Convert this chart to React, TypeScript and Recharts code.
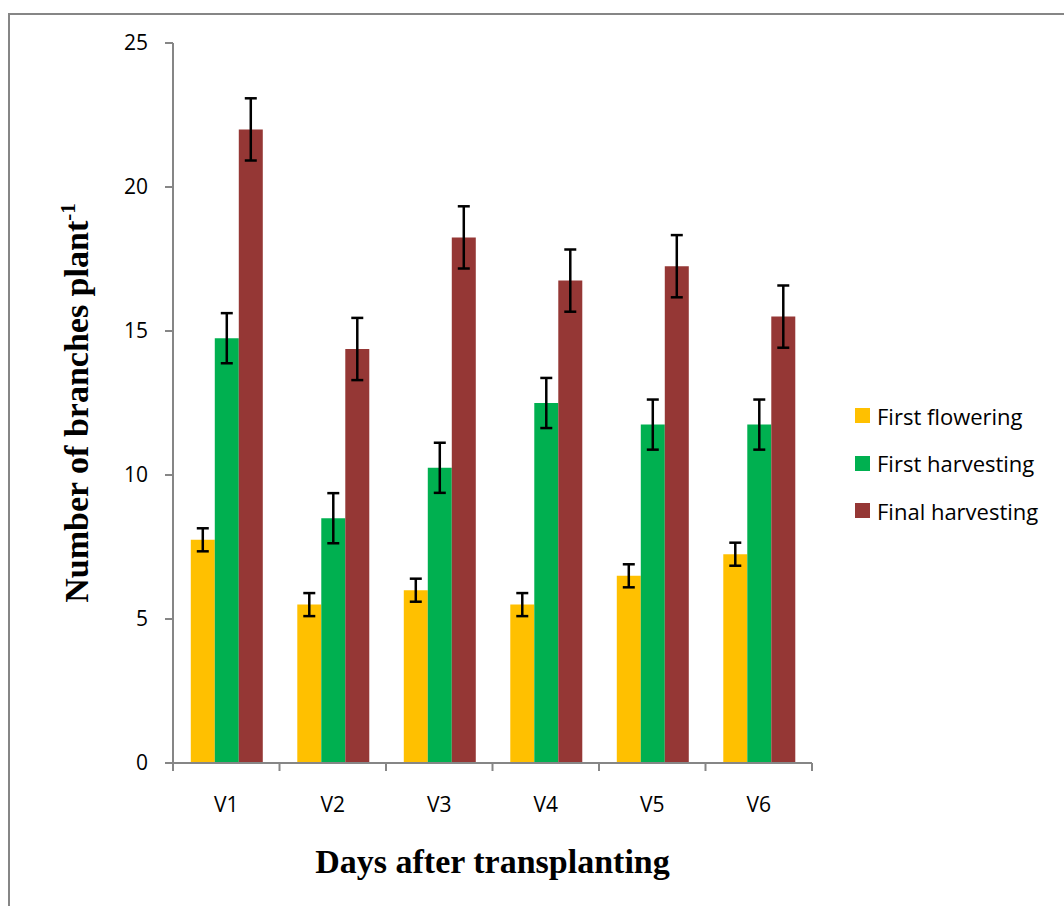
import { BarChart, Bar, XAxis, YAxis, ErrorBar, Legend } from "recharts";

const categories = ["V1", "V2", "V3", "V4", "V5", "V6"];
const firstFlowering = [7.75, 5.5, 6, 5.5, 6.5, 7.25];
const firstHarvesting = [14.75, 8.5, 10.25, 12.5, 11.75, 11.75];
const finalHarvesting = [22, 14.375, 18.25, 16.75, 17.25, 15.5];
const firstFloweringErr = [0.4, 0.4, 0.4, 0.4, 0.4, 0.4];
const firstHarvestingErr = [0.87, 0.87, 0.87, 0.87, 0.87, 0.87];
const finalHarvestingErr = [1.08, 1.08, 1.08, 1.08, 1.08, 1.08];
const yTicks = [0, 5, 10, 15, 20, 25];

const series = [
  { key: "flowering", name: "First flowering", color: "#FFC000" },
  { key: "harvest", name: "First harvesting", color: "#00B050" },
  { key: "final", name: "Final harvesting", color: "#953735" },
];

const AXIS = "#868686";
const FONT = "'Open Sans', sans-serif";

const data = categories.map((name, i) => ({
  name,
  flowering: firstFlowering[i],
  floweringErr: firstFloweringErr[i],
  harvest: firstHarvesting[i],
  harvestErr: firstHarvestingErr[i],
  final: finalHarvesting[i],
  finalErr: finalHarvestingErr[i],
}));

const W = 1064;
const H = 906;
const margin = { top: 43, right: 252, bottom: 23, left: 0 };
const yAxisW = 173;
const xAxisH = 120;
const plotW = W - margin.right - margin.left - yAxisW;

// ticks sit on category boundaries, labels in the middle
function CategoryTick(props: any) {
  const { x, y, payload, index, visibleTicksCount } = props;
  const band = plotW / visibleTicksCount;
  return (
    <g>
      <line x1={x - band / 2} x2={x - band / 2} y1={y} y2={y + 8} stroke={AXIS} strokeWidth={2} />
      {index === visibleTicksCount - 1 && (
        <line x1={x + band / 2} x2={x + band / 2} y1={y} y2={y + 8} stroke={AXIS} strokeWidth={2} />
      )}
      <text x={x} y={y + 49} textAnchor="middle" fontSize={21} fill="#000" fontFamily={FONT}>
        {payload.value}
      </text>
    </g>
  );
}

function ValueTick(props: any) {
  const { x, y, payload } = props;
  return (
    <text x={x} y={y} dy={7} textAnchor="end" fontSize={21} fill="#000" fontFamily={FONT}>
      {payload.value}
    </text>
  );
}

function XTitle(props: any) {
  const { x, y, width } = props.viewBox;
  return (
    <text x={x + width / 2} y={y + 110} textAnchor="middle" fontFamily="'Liberation Serif', serif"
      fontWeight="bold" fontSize={34} fill="#000">
      Days after transplanting
    </text>
  );
}

function YTitle(props: any) {
  const { y, height } = props.viewBox;
  const cx = 88;
  const cy = y + height / 2;
  return (
    <text x={cx} y={cy} transform={`rotate(-90, ${cx}, ${cy})`} textAnchor="middle"
      fontFamily="'Liberation Serif', serif" fontWeight="bold" fontSize={34} fill="#000">
      <tspan>Number of branches plant</tspan>
      <tspan fontSize={21} dy={-13}>-1</tspan>
    </text>
  );
}

function LegendBox() {
  return (
    <div style={{ fontFamily: FONT }}>
      {series.map((s) => (
        <div key={s.key} style={{ height: 47.5, display: "flex", alignItems: "center" }}>
          <span style={{ width: 15, height: 15, background: s.color, marginRight: 7, display: "inline-block" }} />
          <span style={{ fontSize: 22, color: "#000" }}>{s.name}</span>
        </div>
      ))}
    </div>
  );
}

export default function App() {
  return (
    <div style={{ position: "fixed", left: 0, top: 0, width: W, height: H, background: "#fff", overflow: "hidden" }}>
      <div style={{ position: "absolute", left: 8, top: 13, width: W, height: H, borderTop: `2px solid ${AXIS}`, borderLeft: `2px solid ${AXIS}` }} />
      <div style={{ position: "absolute", left: 0, top: 0 }}>
        <BarChart width={W} height={H} data={data} margin={margin} barCategoryGap="16.7%" barGap={0}>
          <XAxis
            dataKey="name"
            height={xAxisH}
            axisLine={{ stroke: AXIS, strokeWidth: 2 }}
            tickLine={false}
            tickSize={0}
            tickMargin={0}
            tick={<CategoryTick />}
            interval={0}
            label={<XTitle />}
          />
          <YAxis
            width={yAxisW}
            domain={[0, 25]}
            ticks={yTicks}
            interval={0}
            axisLine={{ stroke: AXIS, strokeWidth: 2 }}
            tickLine={{ stroke: AXIS, strokeWidth: 2 }}
            tickSize={8}
            tickMargin={17}
            tick={<ValueTick />}
            label={<YTitle />}
          />
          <Legend
            layout="vertical"
            align="center"
            verticalAlign="middle"
            wrapperStyle={{ left: 855, top: 392, width: 209, height: 143 }}
            content={<LegendBox />}
          />
          {series.map((s) => (
            <Bar key={s.key} dataKey={s.key} name={s.name} fill={s.color} isAnimationActive={false}>
              <ErrorBar dataKey={`${s.key}Err`} width={6} stroke="#000" strokeWidth={2.5} isAnimationActive={false} />
            </Bar>
          ))}
        </BarChart>
      </div>
    </div>
  );
}
